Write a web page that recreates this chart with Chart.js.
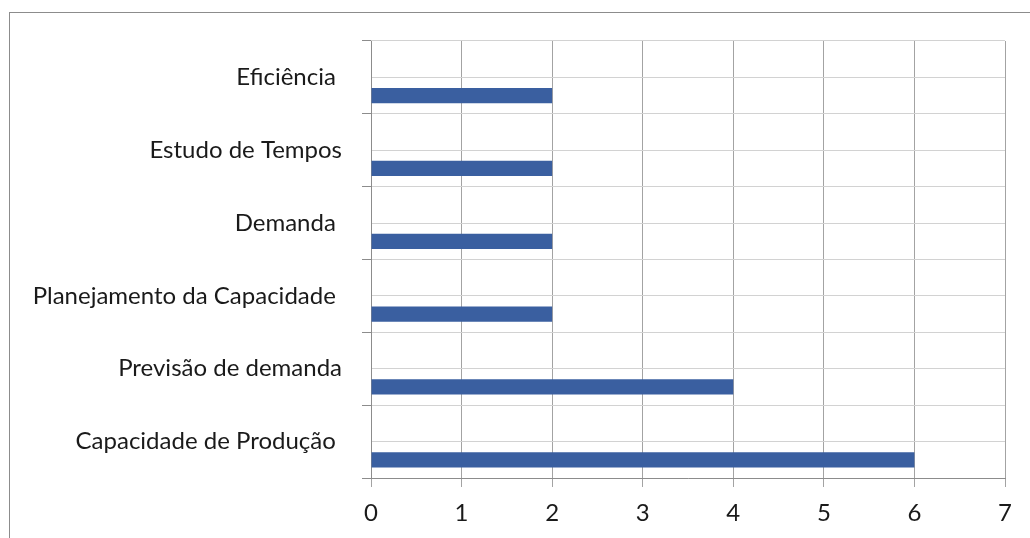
<!DOCTYPE html>
<html>
<head>
<meta charset="utf-8">
<script src="https://cdn.jsdelivr.net/npm/chart.js@4"></script>
<style>
  html, body { margin: 0; padding: 0; background: #fff; overflow: hidden; }
  #wrap { position: relative; width: 1030px; height: 538px; }
  #frame { position: absolute; left: 9px; top: 12px; width: 1100px; height: 600px; border: 1px solid #8c8c8c; }
  #chart { position: absolute; left: 0; top: 0; }
</style>
</head>
<body>
<div id="wrap">
  <div id="frame"></div>
  <canvas id="chart" width="1030" height="538"></canvas>
</div>
<script>
// categories (top to bottom)
var topics = ["Eficiência ", "Estudo de Tempos", "Demanda ", "Planejamento da Capacidade ", "Previsão de demanda", "Capacidade de Produção "];
var counts = [2, 2, 2, 2, 4, 6];
// empty first series, so the bars sit in the lower half of each band
var blankSeries = [null, null, null, null, null, null];
var xTicks = [0, 1, 2, 3, 4, 5, 6, 7];
var halfRows = ["", "", "", "", "", "", "", "", "", "", "", ""];

var font = { family: "Lato", size: 24 };

var ctx = document.getElementById("chart");
var chart = new Chart(ctx, {
  type: "bar",
  data: {
    labels: topics,
    datasets: [
      { label: "vazio", data: blankSeries, yAxisID: "y", backgroundColor: "#3a5fa0" },
      { label: "Série 1", data: counts, yAxisID: "y", backgroundColor: "#3a5fa0" },
    ],
  },
  options: {
    indexAxis: "y",
    responsive: false,
    animation: false,
    categoryPercentage: 1,
    barPercentage: 0.42,
    layout: { padding: { left: 0, right: 25, top: 41, bottom: 0 } },
    plugins: { legend: { display: false }, tooltip: { enabled: false } },
    scales: {
      x: {
        type: "linear",
        min: 0,
        max: 7,
        afterBuildTicks: function (scale) {
          scale.ticks = xTicks.map(function (v) { return { value: v }; });
        },
        afterFit: function (scale) { scale.height = 60; },
        ticks: { color: "#1a1a1a", font: font, padding: 12 },
        grid: { color: "#a3a3a3", tickLength: 9, tickColor: "#a3a3a3" },
        border: { display: true, color: "#8c8c8c" },
      },
      y: {
        type: "category",
        position: "left",
        afterFit: function (scale) { scale.width = 371; },
        ticks: { color: "#1a1a1a", font: font, padding: 20 },
        grid: { drawOnChartArea: false, offset: true, tickLength: 9, tickColor: "#8c8c8c" },
        border: { display: true, color: "#8c8c8c" },
      },
      y2: {
        type: "category",
        position: "left",
        labels: halfRows,
        afterFit: function (scale) { scale.width = 0; },
        ticks: { display: false },
        grid: { offset: true, drawTicks: false, color: "#d2d2d2" },
        border: { display: false },
      },
    },
  },
});
</script>
</body>
</html>
